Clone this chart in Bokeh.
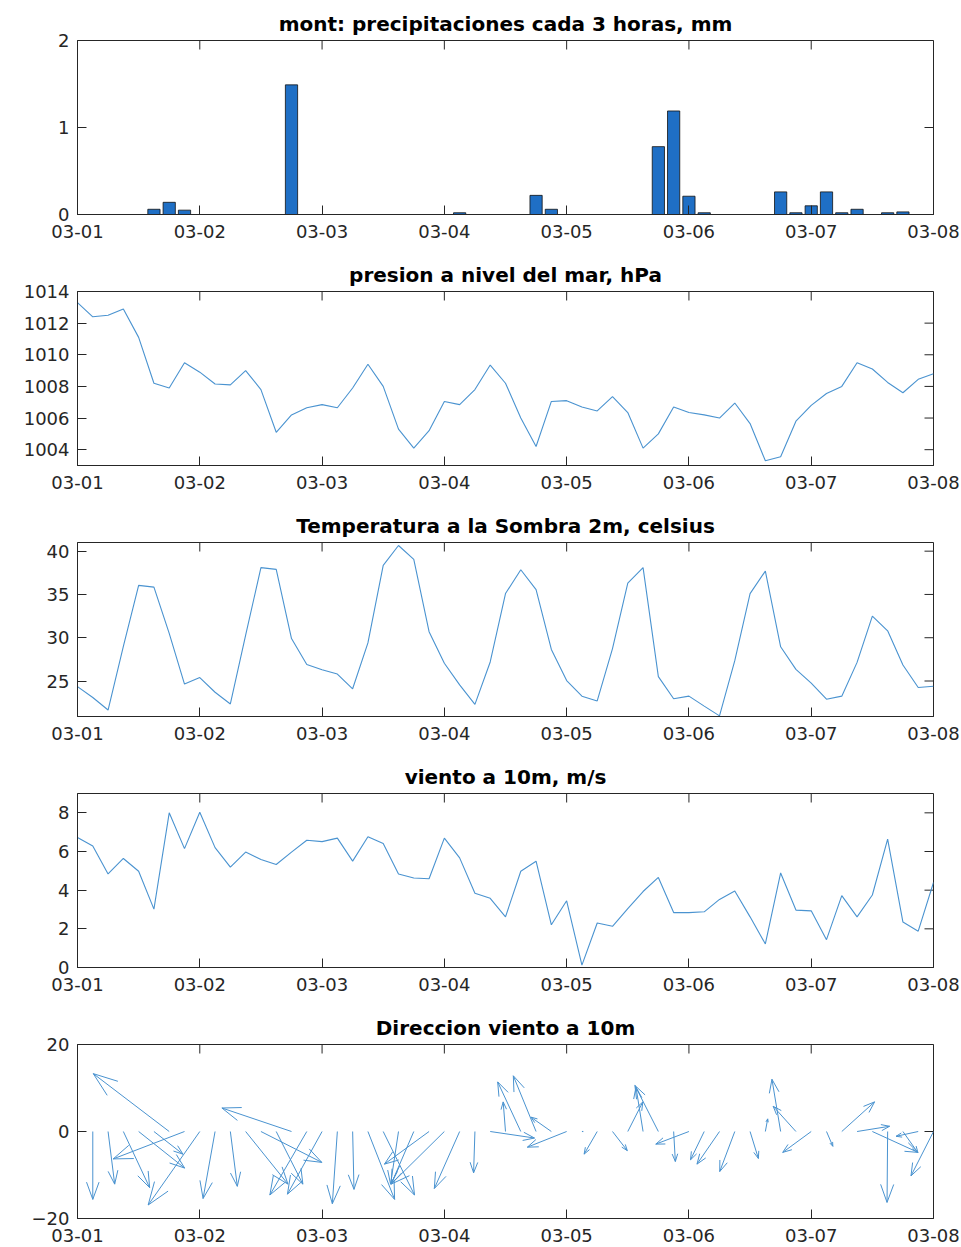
import numpy as np
from bokeh.plotting import figure
from bokeh.layouts import column
from bokeh.models import FixedTicker, Range1d
from bokeh.embed import file_html
from bokeh.resources import INLINE

# ---- data: 3-hourly forecast, 03-01 00:00 .. 03-08 00:00 ----
hours = np.arange(0, 169, 3)
day_ticks = [0, 1, 2, 3, 4, 5, 6, 7]
day_labels = ["03-01", "03-02", "03-03", "03-04", "03-05", "03-06", "03-07", "03-08"]

precip_mm = [0, 0, 0, 0, 0, 0.06, 0.14, 0.05, 0, 0,
             0, 0, 0, 0, 1.49, 0, 0, 0, 0, 0,
             0, 0, 0, 0, 0, 0.02, 0, 0, 0, 0,
             0.22, 0.06, 0, 0, 0, 0, 0, 0, 0.78, 1.19,
             0.21, 0.02, 0, 0, 0, 0, 0.26, 0.02, 0.10, 0.26,
             0.02, 0.06, 0, 0.02, 0.03, 0, 0]

pressure_hpa = [1013.3, 1012.4, 1012.5, 1012.9, 1011.1, 1008.2, 1007.9, 1009.5, 1008.9, 1008.15,
                1008.1, 1009.0, 1007.8, 1005.1, 1006.2, 1006.65, 1006.85, 1006.65, 1007.9, 1009.4,
                1008.0, 1005.3, 1004.1, 1005.2, 1007.05, 1006.85, 1007.8, 1009.35, 1008.2, 1006.0,
                1004.2, 1007.05, 1007.1, 1006.7, 1006.45, 1007.35, 1006.35, 1004.1, 1005.0, 1006.7,
                1006.35, 1006.2, 1006.0, 1006.95, 1005.65, 1003.3, 1003.55, 1005.8, 1006.8, 1007.55,
                1008.0, 1009.5, 1009.1, 1008.25, 1007.6, 1008.45, 1008.8]

temperature_c = [24.35, 23.1, 21.65, 29.0, 36.05, 35.85, 30.5, 24.65, 25.4, 23.7,
                 22.35, 30.3, 38.1, 37.9, 29.9, 26.9, 26.3, 25.8, 24.1, 29.4,
                 38.35, 40.65, 39.05, 30.7, 27.05, 24.55, 22.3, 27.2, 35.1, 37.85,
                 35.55, 28.65, 25.05, 23.25, 22.7, 28.75, 36.3, 38.1, 25.5, 22.95,
                 23.25, 22.1, 20.97, 27.35, 35.1, 37.7, 28.95, 26.35, 24.75, 22.9,
                 23.25, 27.15, 32.5, 30.8, 26.85, 24.25, 24.4]

wind_ms = [6.72, 6.29, 4.84, 5.64, 4.98, 3.02, 8.0, 6.15, 8.03, 6.2,
           5.19, 5.97, 5.59, 5.33, 5.97, 6.58, 6.51, 6.69, 5.5, 6.76,
           6.41, 4.84, 4.63, 4.59, 6.69, 5.67, 3.84, 3.58, 2.62, 4.98,
           5.5, 2.21, 3.45, 0.12, 2.3, 2.13, 3.05, 3.93, 4.66, 2.84,
           2.84, 2.88, 3.52, 3.96, 2.62, 1.22, 4.89, 2.97, 2.93, 1.44,
           3.72, 2.62, 3.75, 6.64, 2.35, 1.88, 4.4]

# wind-direction arrow components (u in days along the time axis, v in plot units)
arrow_u = [0.0, 0.0, 0.054, 0.215, 0.376, 0.237, -0.621, -0.583, -0.422, -0.098,
           0.057, 0.346, 0.498, 0.218, -0.569, -0.302, -0.283, -0.041, 0.011, 0.218,
           0.256, -0.065, -0.185, -0.365, -0.436, -0.207, -0.011, 0.362, -0.019, -0.189,
           -0.186, -0.167, -0.321, 0.01, -0.107, 0.121, 0.123, -0.058, -0.192, 0.014,
           -0.271, -0.112, -0.184, -0.123, 0.068, 0.019, -0.071, -0.186, -0.233, 0.052,
           0.268, 0.266, 0.373, -0.005, 0.123, -0.181, -0.184]
arrow_v = [0.0, -15.6, -12.1, -12.9, -8.4, -5.2, 13.3, -6.3, -16.9, -15.4,
           -12.6, -12.1, -7.1, -12.1, 5.4, -14.6, -14.4, -16.6, -13.3, -15.6,
           -14.6, -12.1, -12.1, -7.5, -12.1, -13.1, -9.5, -1.5, 6.8, 11.4,
           12.8, 3.3, -3.6, 0.0, -5.2, -4.4, 6.8, 10.2, 10.6, -6.9,
           -2.9, -6.5, -7.5, -9.2, -6.2, 2.9, 12.0, 5.8, -4.8, -3.4,
           6.8, 1.2, -4.8, -16.3, -4.9, -1.1, -10.2]

# ---- styling ----
FRAME_W, FRAME_H = 856, 174
X_END = 7
TICK_PX = 9
AX_COLOR = "#262626"
LINE_COLOR = "#4a93d0"
BAR_COLOR = "#1f6fc5"
FONT = "DejaVu Sans"

t_days = hours / 24.0


def make_fig(title, y_start, y_end, yticks, bottom):
    p = figure(frame_width=FRAME_W, frame_height=FRAME_H,
               x_range=Range1d(0, X_END), y_range=Range1d(y_start, y_end),
               output_backend="svg", toolbar_location=None,
               min_border_left=77, min_border_right=28,
               min_border_top=40, min_border_bottom=bottom,
               title=title)
    p.title.align = "center"
    p.title.text_font = FONT
    p.title.text_font_size = "20px"
    p.title.text_font_style = "bold"
    p.title.text_color = "black"
    p.title.offset = 0
    p.title.standoff = 10
    p.xgrid.visible = False
    p.ygrid.visible = False
    p.outline_line_color = AX_COLOR
    p.outline_line_width = 1
    p.background_fill_color = "white"
    p.border_fill_color = "white"

    p.xaxis.ticker = FixedTicker(ticks=day_ticks)
    p.xaxis.major_label_overrides = {k: lab for k, lab in zip(day_ticks, day_labels)}
    p.yaxis.ticker = FixedTicker(ticks=yticks)
    for ax in (p.xaxis[0], p.yaxis[0]):
        ax.axis_line_color = AX_COLOR
        ax.major_tick_line_color = AX_COLOR
        ax.major_tick_in = TICK_PX
        ax.major_tick_out = 0
        ax.minor_tick_line_color = None
        ax.major_label_text_font = FONT
        ax.major_label_text_font_size = "18px"
        ax.major_label_text_color = AX_COLOR
    p.xaxis.major_label_standoff = 10
    p.yaxis.major_label_standoff = 8

    # mirrored tick marks along the top and right edges of the box
    ppx = FRAME_W / X_END
    ppy = FRAME_H / (y_end - y_start)
    p.segment(x0=day_ticks, x1=day_ticks,
              y0=[y_end] * len(day_ticks), y1=[y_end - TICK_PX / ppy] * len(day_ticks),
              line_color=AX_COLOR, line_width=1)
    p.segment(x0=[X_END] * len(yticks), x1=[X_END - TICK_PX / ppx] * len(yticks),
              y0=yticks, y1=yticks, line_color=AX_COLOR, line_width=1)
    return p


# 1: precipitation bars
p1 = make_fig("mont: precipitaciones cada 3 horas, mm", 0, 2, [0, 1, 2], 37)
p1.vbar(x=t_days, top=precip_mm, bottom=0, width=0.8 * 3 / 24,
        fill_color=BAR_COLOR, line_color="#111111", line_width=0.8)

# 2: sea-level pressure
p2 = make_fig("presion a nivel del mar, hPa", 1003, 1014,
              [1004, 1006, 1008, 1010, 1012, 1014], 37)
p2.line(t_days, pressure_hpa, line_color=LINE_COLOR, line_width=1.1)

# 3: temperature
p3 = make_fig("Temperatura a la Sombra 2m, celsius", 20.9, 41.0, [25, 30, 35, 40], 37)
p3.line(t_days, temperature_c, line_color=LINE_COLOR, line_width=1.1)

# 4: wind speed
p4 = make_fig("viento a 10m, m/s", 0, 9, [0, 2, 4, 6, 8], 37)
p4.line(t_days, wind_ms, line_color=LINE_COLOR, line_width=1.1)

# 5: wind direction arrows
p5 = make_fig("Direccion viento a 10m", -20, 20, [-20, 0, 20], 29)
u = np.array(arrow_u)
v = np.array(arrow_v)
tip_x = t_days + u
tip_y = v
px_day = FRAME_W / X_END
px_unit = FRAME_H / 40.0
dxp = u * px_day
dyp = v * px_unit
length = np.hypot(dxp, dyp)
ang = np.arctan2(dyp, dxp)
head = 0.27 * length
phi = np.radians(20)
p5.segment(x0=t_days, y0=np.zeros_like(t_days), x1=tip_x, y1=tip_y,
           line_color=LINE_COLOR, line_width=1)
for s in (1, -1):
    a = ang + np.pi + s * phi
    bx = tip_x + head * np.cos(a) / px_day
    by = tip_y + head * np.sin(a) / px_unit
    p5.segment(x0=tip_x, y0=tip_y, x1=bx, y1=by,
               line_color=LINE_COLOR, line_width=1)

layout = column(p1, p2, p3, p4, p5, spacing=0)
open("out.html", "w").write(file_html(layout, INLINE, title="mont"))
